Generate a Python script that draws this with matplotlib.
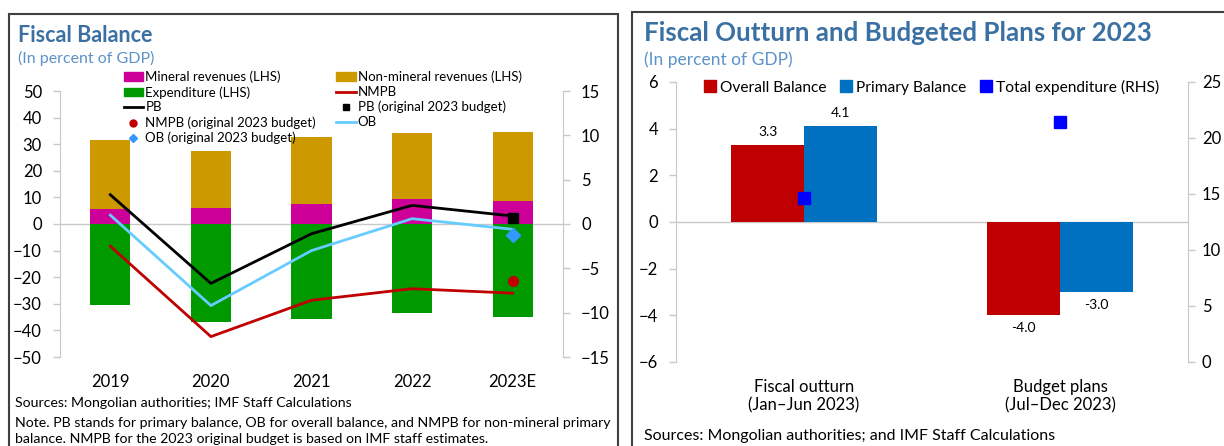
import numpy as np
import matplotlib.pyplot as plt
from matplotlib.patches import Rectangle, Patch
from matplotlib.lines import Line2D

plt.rcParams['font.family'] = ['Lato', 'DejaVu Sans']

# Fiscal balance (left chart), percent of GDP
years = ["2019", "2020", "2021", "2022", "2023E"]
mineral_rev = [5.8, 6.1, 7.6, 9.5, 8.8]
nonmineral_rev = [25.8, 21.5, 25.0, 24.6, 25.6]
expenditure = [-30.5, -36.8, -35.6, -33.3, -35.1]
pb = [3.3, -6.7, -1.1, 2.1, 0.9]
ob = [1.0, -9.2, -3.0, 0.6, -0.6]
nmpb = [-2.5, -12.7, -8.6, -7.3, -7.8]
pb_budget = [0.7]
ob_budget = [-1.2]
nmpb_budget = [-6.4]

# Outturn vs budget (right chart)
periods = ["Fiscal outturn\n(Jan\u2013Jun 2023)", "Budget plans\n(Jul\u2013Dec 2023)"]
overall_bal = [3.3, -4.0]
primary_bal = [4.1, -3.0]
total_exp = [14.6, 21.4]

W, H = 1224, 446
title_col = "#3b70a3"
sub_col = "#5b93c9"
grey = "#c8c8c8"

fig = plt.figure(figsize=(W / 100, H / 100), dpi=100)


def px_axes(x0, y0, x1, y1):
    return fig.add_axes([x0 / W, 1 - y1 / H, (x1 - x0) / W, (y1 - y0) / H])


def style_axis(ax, side):
    for s in ["top", "bottom", "left", "right"]:
        ax.spines[s].set_visible(False)
    ax.spines[side].set_visible(True)
    ax.spines[side].set_color(grey)
    ax.tick_params(axis="y", color=grey, length=5, width=1)


# ---- left chart
ax1 = px_axes(60, 91, 563, 357)
x = np.arange(len(years))
bw = 0.4
ax1.bar(x, mineral_rev, bw, color="#cc0099", zorder=2)
ax1.bar(x, nonmineral_rev, bw, bottom=mineral_rev, color="#cc9900", zorder=2)
ax1.bar(x, expenditure, bw, color="#009900", zorder=2)
ax1.axhline(0, color=grey, lw=1, zorder=1)
ax1.set_xlim(-0.5, len(years) - 0.5)
ax1.set_ylim(-50, 50)
ax1.set_yticks(range(-50, 51, 10))
style_axis(ax1, "left")
ax1.tick_params(axis="y", labelsize=12, pad=8)
ax1.set_xticks(x, years)
ax1.tick_params(axis="x", length=0, labelsize=12, pad=12)

ax1r = ax1.twinx()
ax1r.plot(x, nmpb, color="#c00000", lw=2)
ax1r.plot(x, pb, color="black", lw=2)
ax1r.plot(x, ob, color="#66ccff", lw=2)
ax1r.plot(x[-1:], pb_budget, "s", color="black", ms=7)
ax1r.plot(x[-1:], ob_budget, "D", color="#3399ff", ms=7)
ax1r.plot(x[-1:], nmpb_budget, "o", color="#c00000", ms=7)
ax1r.set_ylim(-15, 15)
ax1r.set_yticks(range(-15, 16, 5))
style_axis(ax1r, "right")
ax1r.tick_params(axis="y", labelsize=12, pad=8)

handles = [
    Patch(color="#cc0099", label="Mineral revenues (LHS)"),
    Patch(color="#009900", label="Expenditure (LHS)"),
    Line2D([], [], color="black", lw=2, label="PB"),
    Line2D([], [], color="#c00000", marker="o", ls="", ms=5, label="NMPB (original 2023 budget)"),
    Line2D([], [], color="#3399ff", marker="D", ls="", ms=4, label="OB (original 2023 budget)"),
    Patch(color="#cc9900", label="Non-mineral revenues (LHS)"),
    Line2D([], [], color="#c00000", lw=2, label="NMPB"),
    Line2D([], [], color="black", marker="s", ls="", ms=5, label="PB (original 2023 budget)"),
    Line2D([], [], color="#66ccff", lw=2, label="OB"),
]
fig.legend(handles=handles, ncol=2, frameon=False, fontsize=9.5,
           loc="upper left", bbox_to_anchor=(117 / W, 1 - 64 / H),
           handlelength=1.5, handleheight=0.6, handletextpad=0.15,
           columnspacing=1.5, labelspacing=0.22, borderpad=0)

fig.text(18 / W, 1 - 35 / H, "Fiscal Balance", fontsize=15.5, fontweight="bold",
         color=title_col, va="center")
fig.text(18 / W, 1 - 58 / H, "(In percent of GDP)", fontsize=11.5,
         color=sub_col, va="center")
fig.text(15 / W, 1 - 403 / H, "Sources: Mongolian authorities; IMF Staff Calculations",
         fontsize=10.2, va="center")
fig.text(15 / W, 1 - 423 / H,
         "Note. PB stands for primary balance, OB for overall balance, and NMPB for non-mineral primary",
         fontsize=10.2, va="center")
fig.text(15 / W, 1 - 439 / H,
         "balance. NMPB for the 2023 original budget is based on IMF staff estimates.",
         fontsize=10.2, va="center")

# ---- right chart
ax2 = px_axes(676, 82, 1188, 362)
x2 = np.arange(len(periods))
bw2 = 0.285
b1 = ax2.bar(x2 - bw2 / 2, overall_bal, bw2, color="#c00000", zorder=2)
b2 = ax2.bar(x2 + bw2 / 2, primary_bal, bw2, color="#0070c0", zorder=2)
ax2.bar_label(b1, fmt="%.1f", padding=5, fontsize=10)
ax2.bar_label(b2, fmt="%.1f", padding=5, fontsize=10)
ax2.axhline(0, color=grey, lw=1, zorder=1)
ax2.set_xlim(-0.5, len(periods) - 0.5)
ax2.set_ylim(-6, 6)
ax2.set_yticks(range(-6, 7, 2))
style_axis(ax2, "left")
ax2.tick_params(axis="y", labelsize=12, pad=8)
ax2.set_xticks(x2, periods)
ax2.tick_params(axis="x", length=0, labelsize=12, pad=12)

ax2r = ax2.twinx()
ax2r.plot(x2, total_exp, "s", color="#0000ff", ms=9, ls="")
ax2r.set_ylim(0, 25)
ax2r.set_yticks(range(0, 26, 5))
style_axis(ax2r, "right")
ax2r.tick_params(axis="y", labelsize=12, pad=5)

handles2 = [
    Line2D([], [], color="#c00000", marker="s", ls="", ms=8, label="Overall Balance"),
    Line2D([], [], color="#0070c0", marker="s", ls="", ms=8, label="Primary Balance"),
    Line2D([], [], color="#0000ff", marker="s", ls="", ms=8, label="Total expenditure (RHS)"),
]
fig.legend(handles=handles2, ncol=3, frameon=False, fontsize=11.2,
           loc="center left", bbox_to_anchor=(697 / W, 1 - 87 / H),
           handlelength=0.7, handletextpad=0.3, columnspacing=0.9, borderpad=0)

fig.text(644 / W, 1 - 33 / H, "Fiscal Outturn and Budgeted Plans for 2023", fontsize=18.6,
         fontweight="bold", color=title_col, va="center")
fig.text(644 / W, 1 - 60 / H, "(In percent of GDP)", fontsize=12.5,
         color=sub_col, va="center")
fig.text(644 / W, 1 - 436 / H, "Sources: Mongolian authorities; and IMF Staff Calculations",
         fontsize=11.5, va="center")

# panel frames
fig.add_artist(Rectangle((9 / W, -0.1), (618 - 9) / W, 0.1 + 1 - 14 / H,
                         transform=fig.transFigure, fill=False, ec="#404040", lw=1.5))
fig.add_artist(Rectangle((632 / W, -0.1), 1, 0.1 + 1 - 12 / H,
                         transform=fig.transFigure, fill=False, ec="#404040", lw=1.5))

fig.savefig("out.png", dpi=100)
